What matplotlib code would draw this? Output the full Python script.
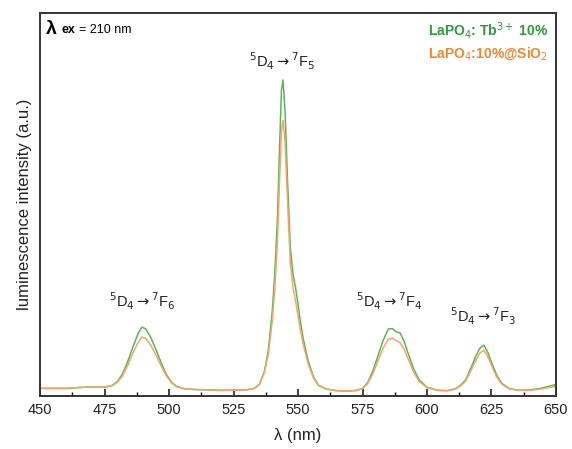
import matplotlib.pyplot as plt
from matplotlib.ticker import MultipleLocator

plt.rcParams['font.family'] = ['Liberation Sans', 'DejaVu Sans']

# wavelength (nm) and intensities (arbitrary units)
wl = [450, 455, 460, 465, 470, 475, 478, 480, 482, 484, 486, 488, 489.5, 491, 493, 495,
      497, 499, 501, 503, 506, 510, 515, 520, 525, 530, 533, 535, 537, 538.5, 540, 541,
      542, 543, 543.6, 544.2, 545, 546, 547, 548, 549, 550, 551, 552, 554, 556, 558, 561, 565,
      570, 573, 575, 577, 579, 581, 583, 585, 586.5, 588, 589.5, 591, 593, 595, 597,
      600, 604, 608, 611, 613, 615, 617, 619, 620.5, 622, 623.5, 625, 627, 629, 632,
      636, 640, 644, 647, 650]

tb10 = [2.0, 2.0, 2.0, 2.2, 2.4, 2.3, 2.8, 3.8, 5.8, 9.0, 12.8, 16.3, 18.0, 17.5, 15.2, 12.0,
        8.6, 5.6, 3.6, 2.5, 1.9, 1.7, 1.6, 1.5, 1.5, 1.6, 2.0, 3.0, 6.5, 12, 22, 32,
        46, 68, 80, 82.5, 74, 55, 39, 32, 28.5, 24, 19, 15, 9, 5, 2.8, 1.8, 1.4,
        1.3, 1.5, 2.0, 3.5, 6.5, 10.5, 14.5, 17.5, 17.6, 16.8, 16.5, 14.5, 10.5, 6.8, 4.2,
        2.3, 1.5, 1.4, 1.9, 2.8, 4.2, 7.3, 10.5, 12.5, 13.3, 11.5, 8.8, 5.5, 3.3, 1.9,
        1.5, 1.6, 2.0, 2.5, 3.0]

sio2 = [2.0, 2.0, 2.0, 2.2, 2.4, 2.3, 2.7, 3.6, 5.3, 8.0, 11.2, 14.0, 15.4, 15.0, 13.2, 10.6,
        7.8, 5.2, 3.4, 2.4, 1.9, 1.7, 1.6, 1.5, 1.5, 1.6, 2.0, 3.0, 6.2, 11, 19.5, 28,
        40, 59, 69, 72, 66, 50, 35, 28.5, 25, 21, 17, 13.5, 8.2, 4.7, 2.7, 1.8, 1.4,
        1.3, 1.5, 1.9, 3.2, 5.8, 9.2, 12.5, 14.8, 15.1, 14.5, 14.0, 12.4, 9.2, 6.0, 3.8,
        2.2, 1.5, 1.4, 1.8, 2.6, 3.9, 6.6, 9.4, 11.2, 12.0, 10.4, 8.0, 5.0, 3.1, 1.8,
        1.5, 1.5, 1.8, 2.2, 2.5]

# transition labels
trans = [r'$^5$D$_4$$\rightarrow$$^7$F$_6$', r'$^5$D$_4$$\rightarrow$$^7$F$_5$',
         r'$^5$D$_4$$\rightarrow$$^7$F$_4$', r'$^5$D$_4$$\rightarrow$$^7$F$_3$']
trans_x = [489.5, 544, 585.5, 622]
trans_y = [22, 84.5, 22, 18]

green = '#5cb35c'
orange = '#f7a566'

fig = plt.figure(figsize=(5.72, 4.49), dpi=100)
ax = fig.add_axes([0.070, 0.118, 0.902, 0.853])

ax.plot(wl, tb10, color=green, lw=1.1)
ax.plot(wl, sio2, color=orange, lw=1.1)

ax.set_xlim(450, 650)
ax.set_ylim(0, 100)
ax.xaxis.set_major_locator(MultipleLocator(25))
ax.xaxis.set_minor_locator(MultipleLocator(12.5))
ax.tick_params(axis='x', which='major', direction='in', length=5, width=1.2,
               labelsize=10.5, colors='#222222', top=False, pad=5)
ax.tick_params(axis='x', which='minor', direction='in', length=3, width=1.0, top=False)
ax.set_yticks([])
for s in ax.spines.values():
    s.set_linewidth(1.4)
    s.set_color('#333333')

ax.set_xlabel('λ (nm)', fontsize=12, color='#222222', labelpad=8)
ax.set_ylabel('luminescence intensity (a.u.)', fontsize=12, color='#222222', labelpad=6)

for t, x, y in zip(trans, trans_x, trans_y):
    ax.text(x, y, t, ha='center', va='bottom', fontsize=10.5, color='#222222')

ax.text(0.012, 0.958, 'λ', transform=ax.transAxes, fontsize=14, fontweight='bold',
        va='center', ha='left')
ax.text(0.042, 0.955, 'ex', transform=ax.transAxes, fontsize=9, fontweight='bold',
        va='center', ha='left')
ax.text(0.076, 0.955, '= 210 nm', transform=ax.transAxes, fontsize=9,
        va='center', ha='left')

ax.text(0.985, 0.955, r'LaPO$_4$: Tb$^{3+}$ 10%', transform=ax.transAxes, fontsize=10,
        fontweight='bold', color='#2f9a3a', ha='right', va='center')
ax.text(0.985, 0.893, r'LaPO$_4$:10%@SiO$_2$', transform=ax.transAxes, fontsize=10,
        fontweight='bold', color='#f5862a', ha='right', va='center')

fig.savefig('out.png', dpi=100)
